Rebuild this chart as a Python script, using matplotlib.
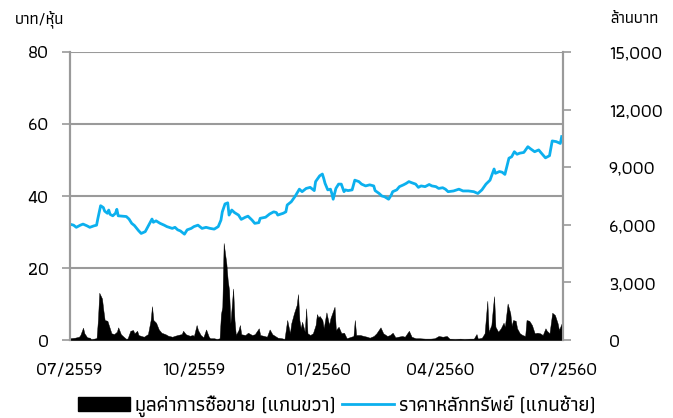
import numpy as np
import pandas as pd
import matplotlib
matplotlib.use("Agg")
import matplotlib.pyplot as plt
from matplotlib.patches import Patch
from matplotlib.lines import Line2D

plt.rcParams['font.family'] = ['Athiti', 'Noto Sans Thai', 'DejaVu Sans']
plt.rcParams['font.weight'] = 'medium'

start = pd.Timestamp('2016-07-01')

# price (baht/share), day offset from 1 Jul 2016
price_day = [0, 3, 5, 8, 10, 13, 15, 18, 20, 21, 23, 25, 26, 28, 29, 30, 32, 34, 35, 36,
             39, 42, 44, 46, 48, 51, 53, 56, 58, 61, 62, 64, 67, 70, 72, 76, 78, 80, 82, 85,
             87, 90, 92, 95, 98, 101, 104, 107, 110, 112, 113, 115, 117, 118, 120, 122, 125, 127, 130, 132,
             135, 137, 140, 141, 145, 148, 151, 153, 154, 158, 160, 161, 164, 167, 170, 172, 175, 178, 181, 182,
             185, 187, 188, 189, 191, 193, 194, 195, 197, 199, 201, 203, 204, 206, 209, 211, 214, 216, 219, 222,
             225, 226, 229, 231, 233, 236, 238, 239, 242, 244, 247, 249, 251, 253, 256, 258, 260, 263, 266, 268,
             271, 273, 276, 278, 280, 284, 288, 291, 295, 299, 302, 305, 308, 311, 314, 315, 318, 320, 322, 325,
             327, 329, 331, 333, 336, 339, 341, 344, 347, 349, 352, 355, 357, 360, 363, 364]
price = [32.2, 31.9, 31.3, 31.9, 32.2, 31.7, 31.3, 31.7, 31.9, 33.8, 37.3, 36.8, 35.8, 35.2, 36.1, 34.9, 34.5, 35.2, 36.3, 34.5,
         34.4, 34.3, 33.6, 32.4, 31.8, 30.4, 29.6, 30.1, 31.5, 33.6, 32.7, 33.1, 32.4, 31.9, 31.5, 31.0, 31.3, 30.6, 30.3, 29.4,
         30.6, 31.0, 31.5, 31.9, 31.0, 31.3, 31.0, 30.8, 31.5, 33.3, 35.6, 37.8, 38.1, 34.7, 36.1, 35.4, 34.7, 33.5, 34.1, 34.4,
         33.3, 32.4, 32.6, 33.8, 34.1, 35.0, 35.6, 35.4, 34.7, 35.2, 35.6, 37.5, 38.4, 40.0, 41.9, 41.2, 42.1, 42.4, 41.5, 44.0,
         45.6, 46.1, 44.9, 43.5, 41.7, 41.9, 40.7, 39.1, 42.1, 43.3, 43.3, 41.2, 41.7, 41.5, 41.7, 44.4, 44.0, 43.3, 42.8, 43.1,
         42.8, 41.5, 40.7, 40.0, 39.8, 39.1, 40.3, 41.2, 41.7, 42.6, 43.1, 43.5, 44.0, 43.7, 43.3, 42.4, 42.8, 42.6, 43.2, 42.8,
         42.6, 42.1, 42.3, 41.9, 41.2, 41.4, 41.9, 41.4, 41.4, 41.2, 40.7, 41.7, 43.3, 44.4, 47.5, 46.3, 46.8, 46.6, 46.0, 50.5,
         50.9, 52.3, 51.6, 51.9, 52.1, 53.7, 53.1, 52.3, 52.8, 51.9, 50.6, 51.2, 55.3, 55.1, 54.6, 56.5]

# trading value (million baht)
vol_day = [0, 4, 7, 8, 10, 11, 13, 15, 16, 20, 21, 22, 24, 25, 26, 28, 29, 31, 33, 35,
           36, 38, 40, 42, 43, 45, 47, 48, 50, 51, 53, 55, 58, 60, 61, 62, 64, 66, 68, 71,
           73, 76, 78, 80, 83, 84, 86, 89, 91, 92, 94, 95, 97, 99, 101, 103, 104, 107, 109, 111,
           112, 113, 114, 116, 117, 118, 119, 121, 122, 123, 125, 126, 127, 130, 132, 135, 137, 140, 141, 144,
           146, 148, 150, 152, 154, 157, 159, 161, 163, 164, 166, 168, 169, 170, 171, 172, 174, 175, 176, 178,
           180, 182, 183, 184, 185, 187, 188, 190, 192, 193, 196, 197, 199, 201, 203, 205, 207, 210, 211, 212,
           215, 217, 220, 222, 225, 227, 230, 232, 235, 237, 239, 241, 243, 246, 248, 251, 253, 256, 259, 263,
           267, 270, 273, 276, 279, 281, 285, 289, 292, 296, 299, 301, 302, 305, 307, 309, 310, 312, 313, 314,
           315, 317, 319, 321, 322, 324, 326, 327, 328, 330, 331, 333, 335, 337, 338, 340, 342, 344, 346, 348,
           350, 352, 353, 355, 357, 359, 361, 362, 364, 365]
volume = [88, 120, 170, 260, 640, 350, 140, 120, 35, 100, 1040, 2460, 2160, 1560, 1040, 1000, 780, 350, 310, 430,
          660, 300, 170, 50, 90, 480, 520, 350, 480, 260, 210, 170, 310, 1040, 1760, 1040, 900, 550, 380, 300,
          220, 170, 220, 260, 310, 480, 300, 220, 260, 210, 780, 520, 260, 140, 550, 170, 90, 90, 50, 90,
          1350, 1730, 5050, 3980, 3110, 2600, 870, 2680, 1040, 260, 520, 780, 300, 260, 380, 260, 300, 610, 260, 210,
          170, 550, 300, 210, 120, 90, 50, 1040, 350, 870, 1390, 1820, 2390, 1040, 610, 950, 430, 1650, 350, 260,
          350, 780, 1350, 1180, 1250, 1040, 610, 1440, 780, 1140, 1730, 520, 690, 360, 380, 90, 140, 210, 1040, 260,
          260, 220, 170, 120, 210, 350, 660, 350, 210, 260, 380, 140, 170, 210, 170, 480, 170, 90, 90, 70,
          70, 90, 210, 170, 210, 70, 50, 70, 50, 70, 70, 310, 70, 120, 350, 2040, 430, 780, 1560, 2280,
          690, 430, 610, 900, 690, 1900, 1390, 730, 1040, 1000, 610, 350, 260, 210, 1040, 1000, 780, 350, 380, 350,
          260, 610, 480, 350, 1420, 1300, 870, 520, 870, 430]

tick_dates = ['2016-07-01', '2016-10-01', '2017-01-01', '2017-04-01', '2017-07-01']
tick_labels = ['07/2559', '10/2559', '01/2560', '04/2560', '07/2560']

price_dates = start + pd.to_timedelta(price_day, unit='D')
vol_dates = start + pd.to_timedelta(vol_day, unit='D')

grey = '#9a9a9a'
blue = '#0cb0ee'

fig = plt.figure(figsize=(6.73, 4.18), dpi=100)
ax = fig.add_axes([0.1033, 0.1866, 0.7333, 0.689])
ax2 = ax.twinx()

ax.plot(price_dates, price, color=blue, lw=2.0, zorder=3)
ax2.fill_between(vol_dates, 0, volume, color='black', lw=0.3, edgecolor='black')

ax.set_ylim(0, 80)
ax.set_yticks([0, 20, 40, 60, 80])
ax2.set_ylim(0, 15000)
ax2.set_yticks([0, 3000, 6000, 9000, 12000, 15000])
ax2.set_yticklabels(['0', '3,000', '6,000', '9,000', '12,000', '15,000'])
ax.set_xlim(pd.Timestamp('2016-07-01'), pd.Timestamp('2017-07-01'))
ax.set_xticks(pd.to_datetime(tick_dates))
ax.set_xticklabels(tick_labels)

ax.grid(axis='y', color=grey, lw=1.5)
ax.set_axisbelow(True)
for a in (ax, ax2):
    a.spines['top'].set_visible(False)
    for s in ('left', 'right', 'bottom'):
        a.spines[s].set_color(grey)
        a.spines[s].set_linewidth(1.5)
ax2.spines['bottom'].set_visible(False)

ax.tick_params(axis='y', colors=grey, length=6, width=1.2, labelcolor='black',
               labelsize=13, pad=9)
ax2.tick_params(axis='y', colors=grey, length=6, width=1.2, labelcolor='black',
                labelsize=13, pad=27)
ax2.set_yticklabels(ax2.get_yticklabels(), ha='left')
ax.tick_params(axis='x', length=0, labelsize=13, pad=16)

fig.text(0.022, 0.955, 'บาท/หุ้น', fontsize=11.5, ha='left', va='center')
fig.text(0.978, 0.955, 'ล้านบาท', fontsize=11.5, ha='right', va='center')

handles = [Patch(facecolor='black', edgecolor='black'),
           Line2D([], [], color=blue, lw=2.0)]
labels = ['มูลค่าการซื้อขาย (แกนขวา)', 'ราคาหลักทรัพย์ (แกนซ้าย)']
fig.legend(handles, labels, loc='center', bbox_to_anchor=(0.5, 0.028), ncol=2,
           frameon=False, fontsize=14.5, handlelength=2.6, handleheight=0.75,
           columnspacing=0.3, handletextpad=0.25)

fig.savefig('out.png', dpi=100)
